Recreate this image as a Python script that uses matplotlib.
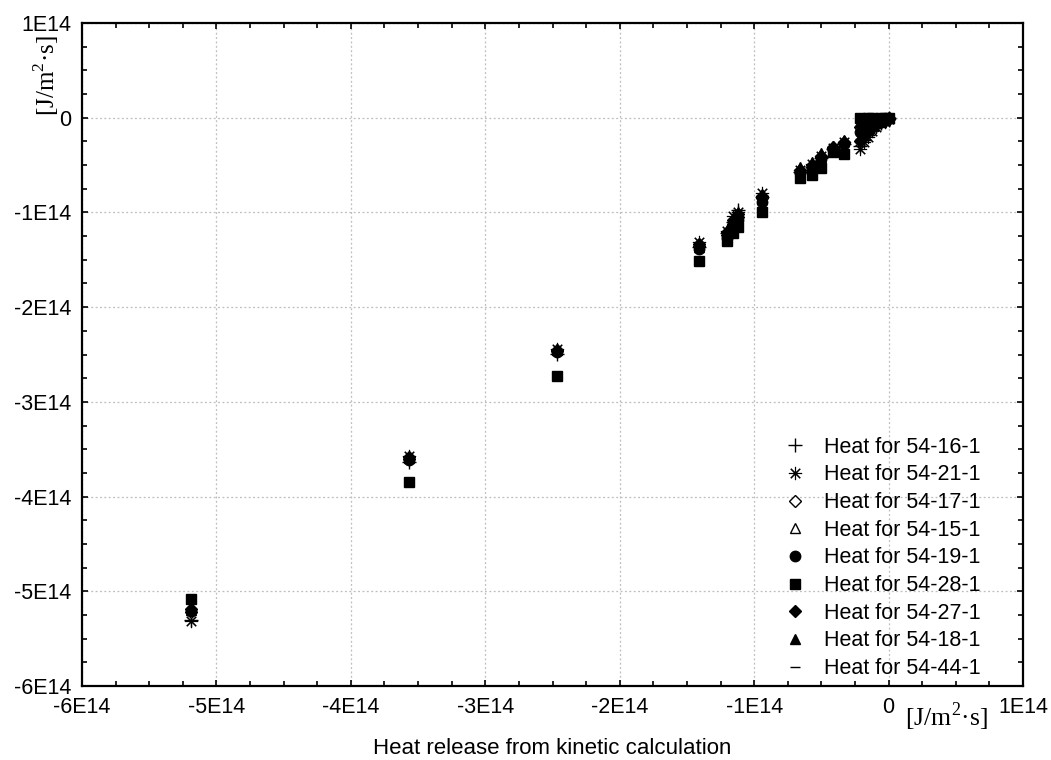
import numpy as np
import matplotlib
matplotlib.use('Agg')
from matplotlib import pyplot as plt
from matplotlib.ticker import MultipleLocator, FuncFormatter

plt.rcParams['font.family'] = ['Liberation Sans', 'DejaVu Sans']
plt.rcParams['mathtext.fontset'] = 'custom'
plt.rcParams['mathtext.rm'] = 'Liberation Serif'

# heat values in units of 1E14 J/(m2*s)
kinetic_x = [-5.19, -3.57, -2.47, -1.41, -1.20, -1.16, -1.12, -0.94, -0.66, -0.57, -0.50,
             -0.41, -0.33, -0.21, -0.18, -0.15, -0.12, -0.09, -0.06, -0.03, 0.00]

heat_54_16_1 = [-5.30, -3.63, -2.49, -1.36, -1.22, -1.10, -0.97, -0.84, -0.57, -0.52, -0.43,
                -0.33, -0.28, -0.30, -0.24, -0.18, -0.13, -0.09, -0.06, -0.03, 0.00]
heat_54_21_1 = [-5.31, -3.57, -2.44, -1.31, -1.20, -1.04, -1.00, -0.79, -0.55, -0.49, -0.40,
                -0.32, -0.26, -0.33, -0.26, -0.20, -0.14, -0.10, -0.06, -0.04, -0.01]
heat_54_17_1 = [-5.22, -3.60, -2.46, -1.35, -1.24, -1.12, -1.05, -0.85, -0.57, -0.52, -0.42,
                -0.33, -0.27, -0.10, -0.08, -0.06, -0.05, -0.04, -0.02, -0.01, 0.00]
heat_54_15_1 = [-5.20, -3.59, -2.45, -1.37, -1.26, -1.14, -1.07, -0.86, -0.56, -0.51, -0.41,
                -0.32, -0.25, -0.20, -0.16, -0.12, -0.09, -0.06, -0.04, -0.02, 0.00]
heat_54_19_1 = [-5.21, -3.61, -2.47, -1.39, -1.27, -1.15, -1.08, -0.89, -0.58, -0.53, -0.44,
                -0.34, -0.28, -0.15, -0.12, -0.10, -0.07, -0.05, -0.03, -0.02, 0.00]
heat_54_28_1 = [-5.08, -3.85, -2.73, -1.51, -1.30, -1.22, -1.15, -1.00, -0.64, -0.60, -0.53,
                -0.36, -0.38, 0.00, -0.01, 0.00, 0.00, -0.01, 0.00, 0.00, 0.00]
heat_54_27_1 = [-5.19, -3.58, -2.45, -1.33, -1.21, -1.08, -1.02, -0.83, -0.55, -0.50, -0.40,
                -0.31, -0.26, -0.25, -0.20, -0.15, -0.11, -0.07, -0.05, -0.03, -0.01]
heat_54_18_1 = [-5.18, -3.58, -2.44, -1.34, -1.19, -1.07, -1.00, -0.81, -0.52, -0.47, -0.37,
                -0.30, -0.24, -0.05, -0.04, -0.03, -0.02, -0.02, -0.01, 0.00, 0.00]
heat_54_44_1 = [-5.23, -3.62, -2.48, -1.40, -1.28, -1.16, -1.09, -0.90, -0.60, -0.55, -0.46,
                -0.35, -0.30, -0.22, -0.18, -0.14, -0.10, -0.07, -0.04, -0.02, 0.00]

labels = ['Heat for 54-16-1', 'Heat for 54-21-1', 'Heat for 54-17-1', 'Heat for 54-15-1',
          'Heat for 54-19-1', 'Heat for 54-28-1', 'Heat for 54-27-1', 'Heat for 54-18-1',
          'Heat for 54-44-1']
series = [heat_54_16_1, heat_54_21_1, heat_54_17_1, heat_54_15_1, heat_54_19_1,
          heat_54_28_1, heat_54_27_1, heat_54_18_1, heat_54_44_1]

scale = 1e14

# marker, size, face colour, edge width
styles = [('+', 9.5, 'black', 1.0),
          ((8, 2, 0), 9.5, 'black', 0.8),
          ('D', 6.5, 'white', 1.0),
          ('^', 7, 'white', 1.0),
          ('o', 7.5, 'black', 1.0),
          ('s', 7.5, 'black', 1.0),
          ('D', 6.5, 'black', 1.0),
          ('^', 7.5, 'black', 1.0),
          ('_', 7, 'black', 1.0)]

fig = plt.figure(figsize=(10.51, 7.60), dpi=100)
ax = fig.add_axes([82/1051, 1 - 686/760, (1023 - 82)/1051, (686 - 23)/760])

x = np.array(kinetic_x) * scale
for y, lab, (m, ms, fc, mew) in zip(series, labels, styles):
    ax.plot(x, np.array(y) * scale, ls='none', marker=m, ms=ms, mfc=fc, mec='black',
            mew=mew, color='black', label=lab)

ax.set_xlim(-6e14, 1e14)
ax.set_ylim(-6e14, 1e14)
ax.xaxis.set_major_locator(MultipleLocator(1e14))
ax.yaxis.set_major_locator(MultipleLocator(1e14))
ax.xaxis.set_minor_locator(MultipleLocator(0.25e14))
ax.yaxis.set_minor_locator(MultipleLocator(0.25e14))


def fmt(v, pos):
    n = int(round(v / 1e14))
    return '0' if n == 0 else '%dE14' % n


ax.xaxis.set_major_formatter(FuncFormatter(fmt))
ax.yaxis.set_major_formatter(FuncFormatter(fmt))
ax.tick_params(which='both', direction='in', top=True, right=True, width=1.2, labelsize=15.5)
ax.tick_params(which='major', length=4.5, pad=8)
ax.tick_params(which='minor', length=3.5)
for sp in ax.spines.values():
    sp.set_linewidth(1.6)
ax.grid(True, which='major', ls=(0, (1.5, 2)), color='#bdbdbd', lw=0.9)
ax.set_axisbelow(True)

ax.set_xlabel('Heat release from kinetic calculation', fontsize=16, labelpad=14)

unit = '[J/m$^{2}$·s]'
fig.text(905/1051, 1 - 717/760, unit, family='Liberation Serif', fontsize=18.5,
         ha='left', va='center')
fig.text(46/1051, 1 - 76/760, unit, family='Liberation Serif', fontsize=18,
         ha='center', va='center', rotation=90)

ax.legend(loc='upper left', bbox_to_anchor=(0.746, 0.376), frameon=False, fontsize=15.5,
          handlelength=1.0, handletextpad=0.85, labelspacing=0.31, borderpad=0,
          borderaxespad=0, numpoints=1)

fig.savefig('out.png', dpi=100)
